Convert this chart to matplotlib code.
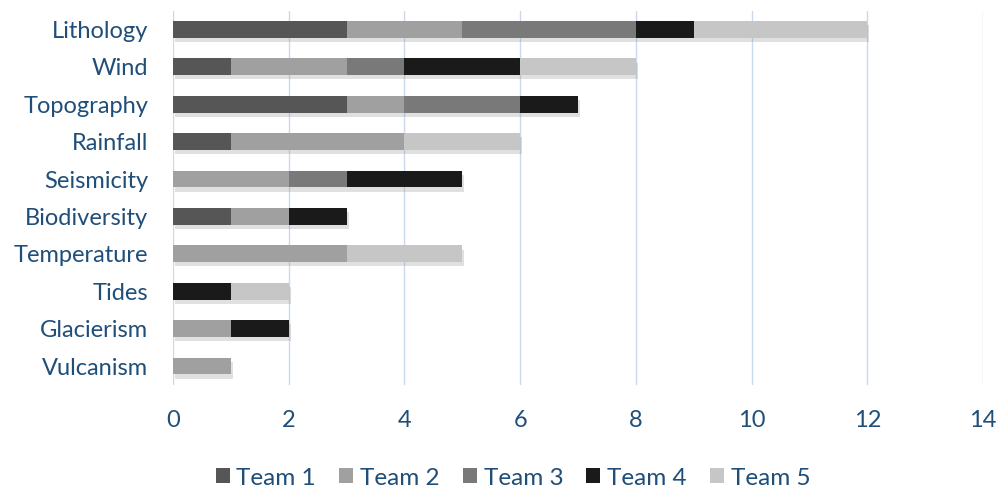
import numpy as np
import matplotlib
matplotlib.use("Agg")
import matplotlib.pyplot as plt
import matplotlib.patheffects as pe
from matplotlib.patches import Patch

categories = ['Lithology', 'Wind', 'Topography', 'Rainfall', 'Seismicity',
              'Biodiversity', 'Temperature', 'Tides', 'Glacierism', 'Vulcanism']
team1 = [3, 1, 3, 1, 0, 1, 0, 0, 0, 0]
team2 = [2, 2, 1, 3, 2, 1, 3, 0, 1, 1]
team3 = [3, 1, 2, 0, 1, 0, 0, 0, 0, 0]
team4 = [1, 2, 1, 0, 2, 1, 0, 1, 1, 0]
team5 = [3, 2, 0, 2, 0, 0, 2, 1, 0, 0]
teams = ['Team 1', 'Team 2', 'Team 3', 'Team 4', 'Team 5']
colors = ['#565656', '#a0a0a0', '#797979', '#1a1a1a', '#c6c6c6']
text_color = '#1f4e79'

plt.rcParams['font.family'] = ['Lato', 'DejaVu Sans']

fig = plt.figure(figsize=(10, 4.87), dpi=100)
ax = fig.add_axes([0.173, 0.21, 0.81, 0.768])

y = np.arange(len(categories))[::-1]
left = np.zeros(len(categories))
shadow = [pe.SimplePatchShadow(offset=(1.5, -3), shadow_rgbFace='#999999', alpha=0.3), pe.Normal()]
for vals, c in zip([team1, team2, team3, team4, team5], colors):
    vals = np.array(vals, dtype=float)
    bars = ax.barh(y, vals, left=left, height=0.45, color=c, zorder=3)
    for b in bars:
        if b.get_width() > 0:
            b.set_path_effects(shadow)
    left += vals

ax.set_xlim(0, 14)
ax.set_ylim(-0.5, len(categories) - 0.5)
ax.set_xticks(range(0, 15, 2))
ax.set_yticks(y)
ax.set_yticklabels(categories)
ax.grid(axis='x', color='#c9d9ec', linewidth=1, zorder=0)
for s in ax.spines.values():
    s.set_visible(False)
ax.tick_params(length=0, labelcolor=text_color)
ax.tick_params(axis='y', pad=18, labelsize=17)
ax.tick_params(axis='x', pad=18, labelsize=17)

handles = [Patch(facecolor=c) for c in colors]
fig.legend(handles, teams, loc='lower center', ncol=5, frameon=False,
           bbox_to_anchor=(0.513, -0.048), fontsize=17.5, labelcolor=text_color,
           handlelength=0.58, handleheight=0.58, handletextpad=0.28, columnspacing=0.95)

fig.savefig('out.png', dpi=100)
